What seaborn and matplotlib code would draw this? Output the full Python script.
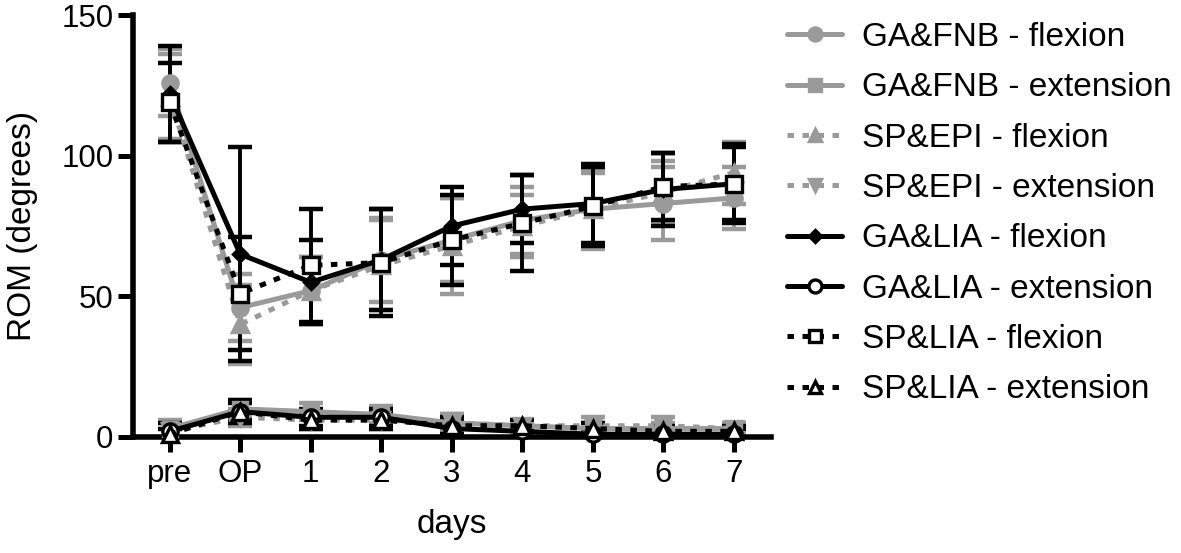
import numpy as np
import pandas as pd
import matplotlib
matplotlib.use("Agg")
import matplotlib.pyplot as plt
import seaborn as sns
from matplotlib.lines import Line2D

days = ["pre", "OP", "1", "2", "3", "4", "5", "6", "7"]

series_names = ["GA&FNB - flexion", "GA&FNB - extension", "SP&EPI - flexion", "SP&EPI - extension",
                "GA&LIA - flexion", "GA&LIA - extension", "SP&LIA - flexion", "SP&LIA - extension"]

ga_fnb_flex = [126, 46, 52, 63, 70, 77, 81, 83, 85]
ga_fnb_flex_sd = [12, 12, 12, 15, 15, 12, 14, 13, 11]
ga_fnb_ext = [3, 10, 9, 8, 5, 4, 3, 3, 3]
ga_fnb_ext_sd = [3, 3, 3, 3, 3, 2, 2, 2, 2]
sp_epi_flex = [121, 40, 52, 61, 68, 75, 81, 87, 94]
sp_epi_flex_sd = [15, 14, 12, 16, 17, 11, 13, 11, 11]
sp_epi_ext = [2, 7, 6, 6, 5, 4, 4, 4, 3]
sp_epi_ext_sd = [3, 3, 3, 3, 3, 2, 3, 3, 2]
ga_lia_flex = [122, 65, 55, 63, 75, 81, 83, 88, 90]
ga_lia_flex_sd = [17, 38, 15, 18, 14, 12, 14, 13, 14]
ga_lia_ext = [2, 9, 7, 7, 3, 2, 1, 1, 1]
ga_lia_ext_sd = [3, 4, 3, 3, 3, 2, 2, 2, 2]
sp_lia_flex = [119, 51, 61, 62, 70, 76, 82, 89, 90]
sp_lia_flex_sd = [14, 20, 20, 19, 16, 17, 14, 12, 13]
sp_lia_ext = [1, 9, 6, 6, 4, 4, 3, 2, 2]
sp_lia_ext_sd = [2, 3, 3, 3, 3, 2, 2, 2, 2]

values = [ga_fnb_flex, ga_fnb_ext, sp_epi_flex, sp_epi_ext, ga_lia_flex, ga_lia_ext, sp_lia_flex, sp_lia_ext]
sds = [ga_fnb_flex_sd, ga_fnb_ext_sd, sp_epi_flex_sd, sp_epi_ext_sd,
       ga_lia_flex_sd, ga_lia_ext_sd, sp_lia_flex_sd, sp_lia_ext_sd]

gray = "#9a9a9a"
black = "#000000"
dot = (0, (1.3, 1.7))
styles = [
    dict(color=gray, ls="-", marker="o", mfc=gray, ms=11),
    dict(color=gray, ls="-", marker="s", mfc=gray, ms=10),
    dict(color=gray, ls=dot, marker="^", mfc=gray, ms=11),
    dict(color=gray, ls=dot, marker="v", mfc=gray, ms=11),
    dict(color=black, ls="-", marker="D", mfc=black, ms=7),
    dict(color=black, ls="-", marker="o", mfc="white", ms=11),
    dict(color=black, ls=dot, marker="s", mfc="white", ms=11),
    dict(color=black, ls=dot, marker="^", mfc="white", ms=11),
]

sns.set_theme(style="ticks")
plt.rcParams["font.family"] = ["Liberation Sans", "DejaVu Sans"]
plt.rcParams["text.color"] = "black"
plt.rcParams["axes.labelcolor"] = "black"

fig = plt.figure(figsize=(11.81, 5.53), dpi=100)
ax = fig.add_axes([0.1126, 0.2098, 0.540, 0.763])

x = np.arange(len(days))
handles = []
for name, v, sd, st in zip(series_names, values, sds, styles):
    df = pd.DataFrame({"x": x, "y": v})
    sns.lineplot(data=df, x="x", y="y", ax=ax, color=st["color"], linestyle=st["ls"], lw=3.6,
                 marker=st["marker"], markersize=st["ms"], markerfacecolor=st["mfc"],
                 markeredgecolor=st["color"], markeredgewidth=2.4, clip_on=False, zorder=3,
                 legend=False)
    ax.errorbar(x, v, yerr=sd, fmt="none", ecolor=st["color"], elinewidth=2.8, capsize=8.5,
                capthick=3.2, zorder=2)
    handles.append(Line2D([0], [0], color=st["color"], linestyle=st["ls"], lw=3.6,
                          marker=st["marker"], markersize=st["ms"] * 0.85, markerfacecolor=st["mfc"],
                          markeredgecolor=st["color"], markeredgewidth=2.4))

ax.set_xlim(-0.52, 8.52)
ax.set_ylim(0, 150)
ax.set_xticks(x)
ax.set_xticklabels(days)
ax.set_yticks([0, 50, 100, 150])
ax.set_xlabel("days", fontsize=24, labelpad=14, color="black")
ax.set_ylabel("ROM (degrees)", fontsize=24, labelpad=17, color="black")
ax.tick_params(axis="both", labelsize=22.5, width=3.6, length=11, color="black", labelcolor="black")
ax.tick_params(axis="x", pad=5)
ax.tick_params(axis="y", pad=3)
for s in ["top", "right"]:
    ax.spines[s].set_visible(False)
for s in ["left", "bottom"]:
    ax.spines[s].set_linewidth(4)
    ax.spines[s].set_color("black")

leg = fig.legend(handles, series_names, loc="upper left", bbox_to_anchor=(0.661, 0.972),
                 frameon=False, fontsize=24, handlelength=1.65, labelspacing=0.58,
                 handletextpad=0.6, borderaxespad=0.0, borderpad=0.2, labelcolor="black")

fig.savefig("out.png", dpi=100)
